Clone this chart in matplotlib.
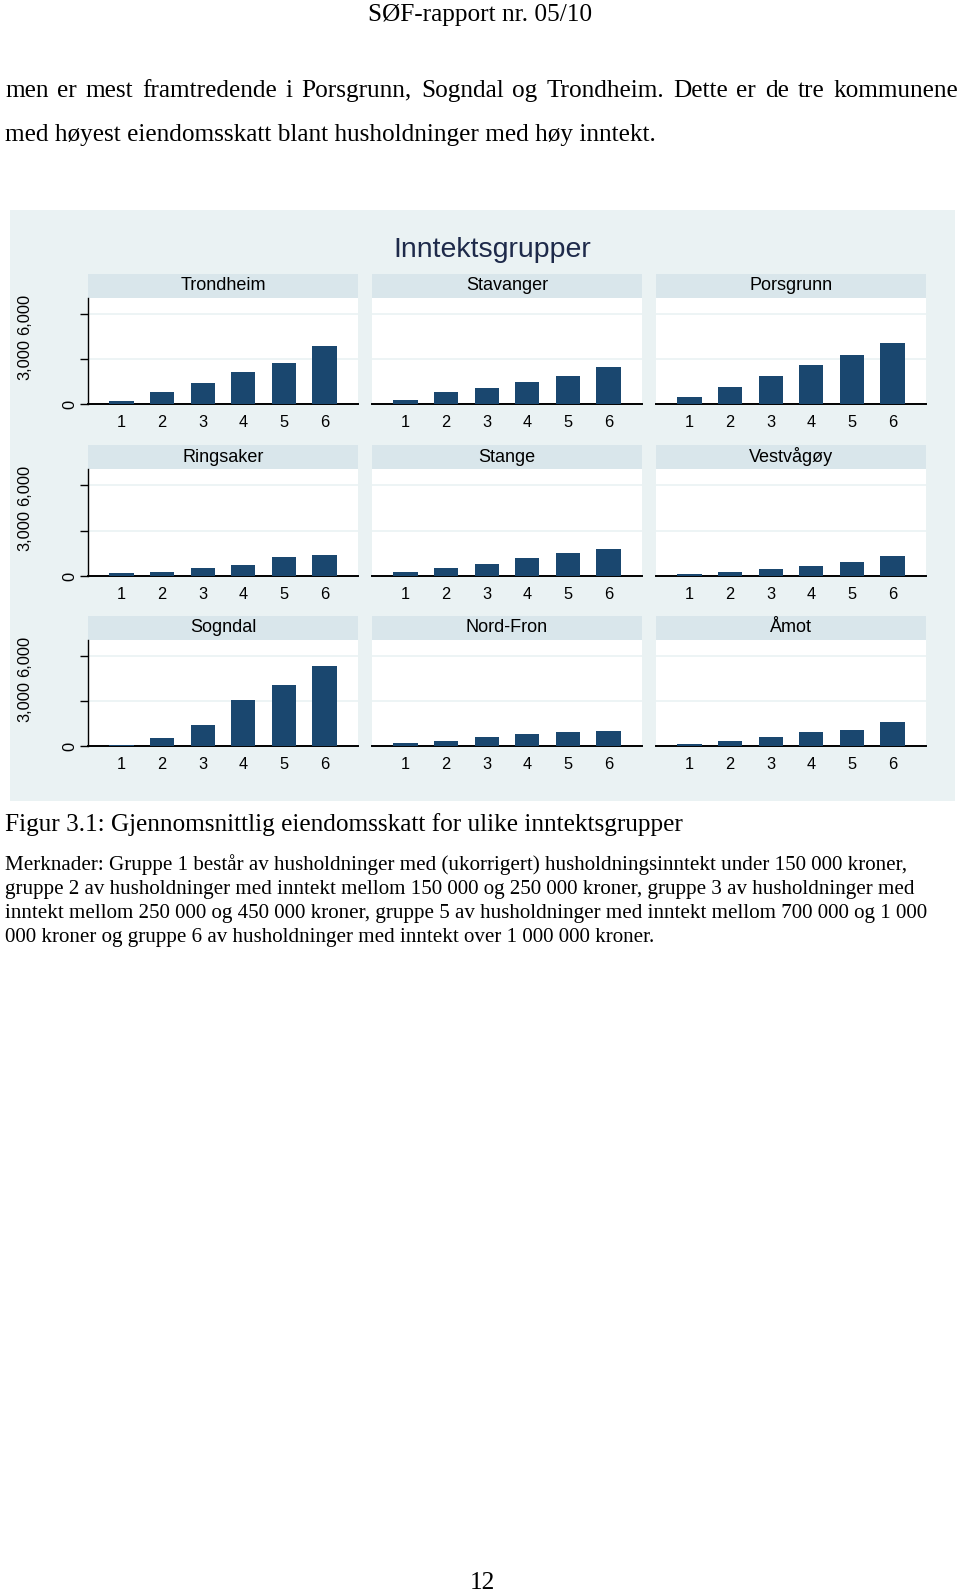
import matplotlib
matplotlib.use('Agg')
import matplotlib.pyplot as plt
import matplotlib.transforms as mtransforms
from matplotlib.patches import Rectangle

# data (average property tax, NOK)
kommuner = ['Trondheim', 'Stavanger', 'Porsgrunn',
            'Ringsaker', 'Stange', 'Vestvågøy',
            'Sogndal', 'Nord-Fron', 'Åmot']
grupper = [1, 2, 3, 4, 5, 6]
trondheim = [175, 810, 1400, 2145, 2715, 3855]
stavanger = [260, 770, 1095, 1490, 1880, 2450]
porsgrunn = [480, 1160, 1840, 2630, 3260, 4050]
ringsaker = [175, 290, 550, 750, 1280, 1410]
stange = [240, 530, 795, 1190, 1520, 1765]
vestvagoy = [155, 240, 460, 685, 905, 1345]
sogndal = [90, 530, 1400, 3070, 4100, 5370]
nord_fron = [200, 330, 575, 800, 930, 1020]
amot = [130, 330, 600, 930, 1060, 1600]
yticks = [0, 3000, 6000]
ytick_labels = ['0', '3,000', '6,000']

verdier = [trondheim, stavanger, porsgrunn,
           ringsaker, stange, vestvagoy,
           sogndal, nord_fron, amot]

W, H = 960, 1592
fig = plt.figure(figsize=(W / 100, H / 100), dpi=100)
fig.patch.set_facecolor('white')

BG = '#eaf2f3'
STRIP = '#d9e6eb'
BAR = '#1a476f'
SANS = 'Liberation Sans'
SERIF = 'Liberation Serif'


def px_axes(x0, y0, x1, y1):
    return fig.add_axes([x0 / W, 1 - y1 / H, (x1 - x0) / W, (y1 - y0) / H])


def ftext(x, y, s, **kw):
    return fig.text(x / W, 1 - y / H, s, **kw)


def justified(s, x0, x1, y, **kw):
    # lay out words so the line fills x0..x1
    r = fig.canvas.get_renderer()
    words = s.split()
    ts = [ftext(x0, y, w, **kw) for w in words]
    widths = [t.get_window_extent(r).width for t in ts]
    gap = (x1 - x0 - sum(widths)) / (len(words) - 1)
    x = x0
    for t, w in zip(ts, widths):
        t.set_x(x / W)
        x += w + gap


# graph region background (behind the panels)
fig.patches.append(Rectangle((10 / W, 1 - 801 / H), 945 / W, 591 / H,
                             transform=fig.transFigure, facecolor=BG,
                             edgecolor='none', zorder=-5))

ftext(492, 257, 'Inntektsgrupper', ha='center', va='baseline',
      fontsize=20.5, color='#1e2a4a', family=SANS)

kolonner = [(88, 358), (372, 642), (656, 926)]
rader = [(274, 298, 404), (445, 469, 576), (616, 640, 746)]

for i, (navn, vals) in enumerate(zip(kommuner, verdier)):
    r, c = divmod(i, 3)
    x0, x1 = kolonner[c]
    stop, ptop, pbot = rader[r]

    sax = px_axes(x0, stop, x1, ptop)
    sax.set_facecolor(STRIP)
    sax.set_xticks([])
    sax.set_yticks([])
    for sp in sax.spines.values():
        sp.set_visible(False)
    sax.text(0.5, 0.5, navn, ha='center', va='center', fontsize=13,
             family=SANS, transform=sax.transAxes)

    ax = px_axes(x0, ptop, x1, pbot)
    ax.set_facecolor('white')
    ax.bar(grupper, vals, width=0.6, color=BAR, zorder=3)
    ax.set_xlim(0.17, 6.83)
    ax.set_ylim(0, 7080)
    for yv in yticks[1:]:
        ax.axhline(yv, color=BG, lw=1.2, zorder=1)
    ax.set_xticks(grupper)
    ax.set_xticklabels([str(g) for g in grupper], family=SANS, fontsize=11.8)
    ax.tick_params(axis='x', length=0, pad=8)
    for sp in ['top', 'right']:
        ax.spines[sp].set_visible(False)
    ax.spines['bottom'].set_linewidth(1.4)
    if c == 0:
        ax.spines['left'].set_linewidth(1.0)
        ax.set_yticks(yticks)
        ax.set_yticklabels([])
        ax.tick_params(axis='y', length=6, width=1.0)
        tr = mtransforms.blended_transform_factory(fig.transFigure, ax.transData)
        for yv, lab in zip(yticks, ytick_labels):
            xp = 70 if lab == '0' else 25
            ax.text(xp / W, yv, lab, rotation=90, ha='center', va='center',
                    fontsize=11.8, family=SANS, transform=tr, clip_on=False)
    else:
        ax.spines['left'].set_visible(False)
        ax.set_yticks([])

# page text
ftext(480, 15.5, 'SØF-rapport nr. 05/10', ha='center', va='center',
      fontsize=18.2, family=SERIF)
justified('men er mest framtredende i Porsgrunn, Sogndal og Trondheim. '
          'Dette er de tre kommunene', 5, 958, 91, va='center',
          fontsize=18.2, family=SERIF)
ftext(5, 134.5, 'med høyest eiendomsskatt blant husholdninger med høy inntekt.',
      va='center', fontsize=18.2, family=SERIF)

ftext(5, 824.5, 'Figur 3.1: Gjennomsnittlig eiendomsskatt for ulike inntektsgrupper',
      va='center', fontsize=18.2, family=SERIF)

merknader = [
    'Merknader: Gruppe 1 består av husholdninger med (ukorrigert) '
    'husholdningsinntekt under 150 000 kroner,',
    'gruppe 2 av husholdninger med inntekt mellom 150 000 og 250 000 '
    'kroner, gruppe 3 av husholdninger med',
    'inntekt mellom 250 000 og 450 000 kroner, gruppe 5 av husholdninger '
    'med inntekt mellom 700 000 og 1 000',
    '000 kroner og gruppe 6 av husholdninger med inntekt over 1 000 000 kroner.',
]
for k, linje in enumerate(merknader):
    ftext(5, 865 + k * 24.3, linje, va='center', fontsize=15.1, family=SERIF)

ftext(482, 1583, '12', ha='center', va='center', fontsize=18.2, family=SERIF)

fig.savefig('out.png', dpi=100)
